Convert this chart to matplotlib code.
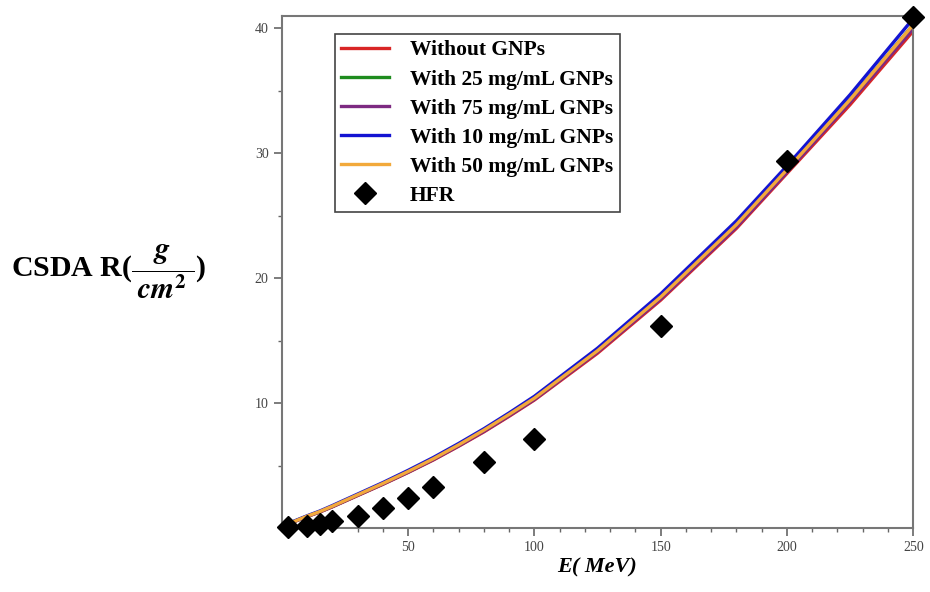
import matplotlib
matplotlib.use("Agg")
from matplotlib import pyplot as plt
from matplotlib.ticker import MultipleLocator

# calculated CSDA ranges (g/cm^2) vs proton energy (MeV)
energy = [3, 5, 10, 15, 20, 30, 40, 50, 60, 70, 80, 90, 100, 125, 150, 180, 200, 225, 250]
r_without = [0.33, 0.52, 0.92, 1.28, 1.70, 2.60, 3.50, 4.45, 5.45, 6.55, 7.70, 8.95, 10.25,
             14.0, 18.25, 24.0, 28.4, 33.9, 39.8]
r_25 = [0.34, 0.54, 0.94, 1.31, 1.73, 2.64, 3.55, 4.50, 5.52, 6.63, 7.80, 9.05, 10.35,
        14.2, 18.45, 24.3, 28.7, 34.3, 40.3]
r_75 = [0.33, 0.53, 0.93, 1.29, 1.71, 2.62, 3.52, 4.47, 5.48, 6.58, 7.74, 9.00, 10.30,
        14.1, 18.35, 24.1, 28.5, 34.1, 40.0]
r_10 = [0.36, 0.57, 0.98, 1.36, 1.80, 2.72, 3.64, 4.62, 5.65, 6.77, 7.95, 9.22, 10.55,
        14.4, 18.75, 24.6, 29.0, 34.7, 40.8]
r_50 = [0.34, 0.54, 0.95, 1.32, 1.75, 2.66, 3.57, 4.53, 5.55, 6.66, 7.84, 9.10, 10.40,
        14.2, 18.50, 24.3, 28.7, 34.3, 40.3]

# HFR reference points
hfr_e = [2.5, 10, 15, 20, 30, 40, 50, 60, 80, 100, 150, 200, 250]
hfr_r = [0.1, 0.2, 0.3, 0.57, 0.96, 1.6, 2.4, 3.3, 5.3, 7.1, 16.2, 29.4, 40.9]

plt.rcParams['font.family'] = 'Liberation Serif'
plt.rcParams['mathtext.fontset'] = 'stix'

fig = plt.figure(figsize=(9.3, 5.92), dpi=100)
ax = fig.add_axes([0.303, 0.108, 0.679, 0.865])

ax.plot(energy, r_without, color='#d92626', lw=2.4, label='Without GNPs', zorder=2)
ax.plot(energy, r_25, color='#1e8c1e', lw=2.4, label='With 25 mg/mL GNPs', zorder=2)
ax.plot(energy, r_75, color='#7d2a82', lw=2.4, label='With 75 mg/mL GNPs', zorder=2)
ax.plot(energy, r_10, color='#1414d2', lw=2.4, label='With 10 mg/mL GNPs', zorder=3)
ax.plot(energy, r_50, color='#f2a93b', lw=2.4, label='With 50 mg/mL GNPs', zorder=4)
ax.plot(hfr_e, hfr_r, 'D', color='black', ms=11, ls='none', label='HFR', zorder=5,
        clip_on=False)

ax.set_xlim(0, 250)
ax.set_ylim(0, 41)
ax.set_xticks([50, 100, 150, 200, 250])
ax.set_yticks([10, 20, 30, 40])
ax.xaxis.set_minor_locator(MultipleLocator(10))
ax.yaxis.set_minor_locator(MultipleLocator(5))
ax.tick_params(which='major', direction='out', length=6, width=1.2, colors='#666666',
               labelsize=10, labelcolor='#444444')
ax.tick_params(which='minor', direction='out', length=3, width=1, colors='#666666')
for s in ax.spines.values():
    s.set_color('#777777')
    s.set_linewidth(1.5)

ax.set_xlabel('E( MeV)', fontsize=16, fontweight='bold', style='italic', labelpad=2)
fig.text(0.012, 0.54,
         r'CSDA R($\dfrac{\mathbfit{g}}{\;\mathbfit{cm}^{\mathbf{2}}\;}$)',
         fontsize=21.5, fontweight='bold', va='center', ha='left')

leg = ax.legend(loc='upper left', bbox_to_anchor=(0.084, 0.965), borderaxespad=0,
                prop={'family': 'Liberation Serif', 'weight': 'bold', 'size': 15.5},
                fancybox=False, framealpha=1, edgecolor='#444444',
                handlelength=2.2, labelspacing=0.42, handletextpad=1.0,
                borderpad=0.3)
leg.get_frame().set_linewidth(1.2)

fig.savefig('out.png', dpi=100)
